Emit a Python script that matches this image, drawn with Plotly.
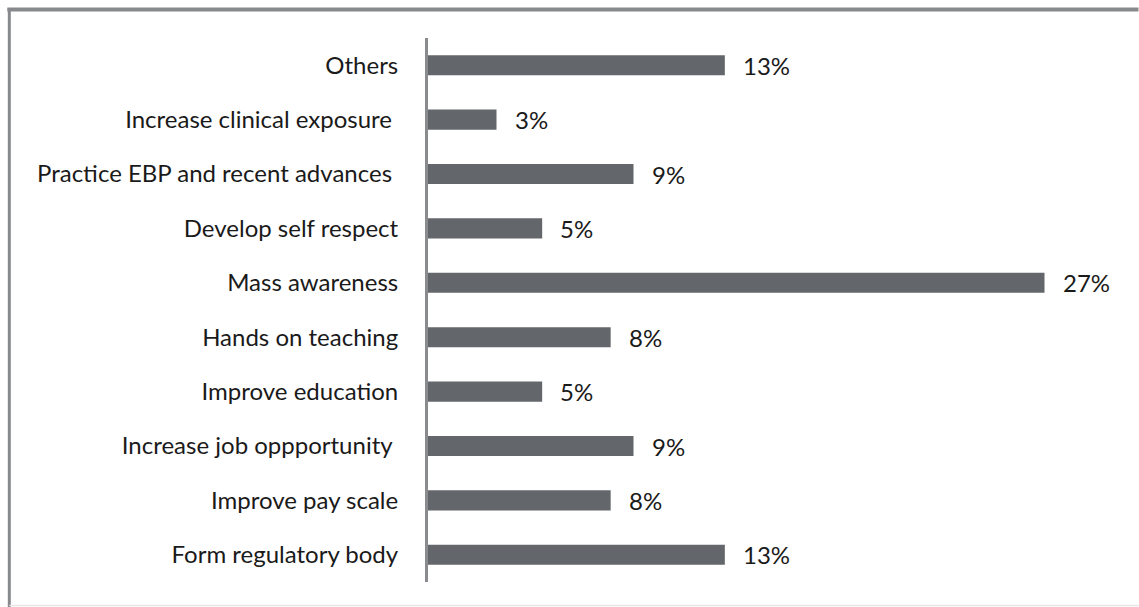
import plotly.graph_objects as go

categories = ["Form regulatory body", "Improve pay scale", "Increase job oppportunity\u00a0",
              "Improve education", "Hands on teaching", "Mass awareness",
              "Develop self respect", "Practice EBP and recent advances\u00a0",
              "Increase clinical exposure\u00a0", "Others"]
values = [13, 8, 9, 5, 8, 27, 5, 9, 3, 13]
value_labels = ["13%", "8%", "9%", "5%", "8%", "27%", "5%", "9%", "3%", "13%"]

W_FIG, H_FIG = 1139, 607
L, R_EDGE, T, B_EDGE = 428, 1113.5, 38, 582
pw, ph = R_EDGE - L, B_EDGE - T
FONT = "Lato"
FS = 24

fig = go.Figure(go.Bar(
    x=values, y=categories, orientation="h",
    marker=dict(color="#63666a", line=dict(width=0)),
    width=0.37, hoverinfo="skip",
))

for v, c, t in zip(values, categories, value_labels):
    fig.add_annotation(x=v, y=c, text=t, showarrow=False, xanchor="left",
                       xshift=16, yshift=0, font=dict(size=FS, color="#1a1a1a",
                                                      family=FONT))

def px2x(p):
    return (p - L) / pw

def px2y(p):
    return (B_EDGE - p) / ph

shapes = [
    dict(type="line", xref="paper", yref="paper", x0=px2x(7), x1=px2x(1139),
         y0=px2y(9.5), y1=px2y(9.5), line=dict(color="#88898c", width=4)),
    dict(type="line", xref="paper", yref="paper", x0=px2x(9), x1=px2x(9),
         y0=px2y(8), y1=px2y(607), line=dict(color="#88898c", width=3)),
    dict(type="line", xref="paper", yref="paper", x0=px2x(9), x1=px2x(1139),
         y0=px2y(605.5), y1=px2y(605.5), line=dict(color="#e6e6e6", width=1.5)),
]

fig.update_layout(
    width=W_FIG, height=H_FIG,
    margin=dict(l=L, r=W_FIG - R_EDGE, t=T, b=H_FIG - B_EDGE, pad=0),
    plot_bgcolor="white", paper_bgcolor="white",
    showlegend=False, shapes=shapes,
    font=dict(family=FONT, size=FS, color="#1a1a1a"),
    xaxis=dict(range=[0, 30], showgrid=False, zeroline=False, showline=False,
               showticklabels=False, fixedrange=True),
    yaxis=dict(showgrid=False, zeroline=False, showline=True, linecolor="#8a8b8e",
               linewidth=3, ticks="", ticklabelstandoff=22,
               tickfont=dict(size=FS, family=FONT, color="#1a1a1a"),
               range=[-0.5, 9.5], fixedrange=True),
)

fig.write_html("out.html")
